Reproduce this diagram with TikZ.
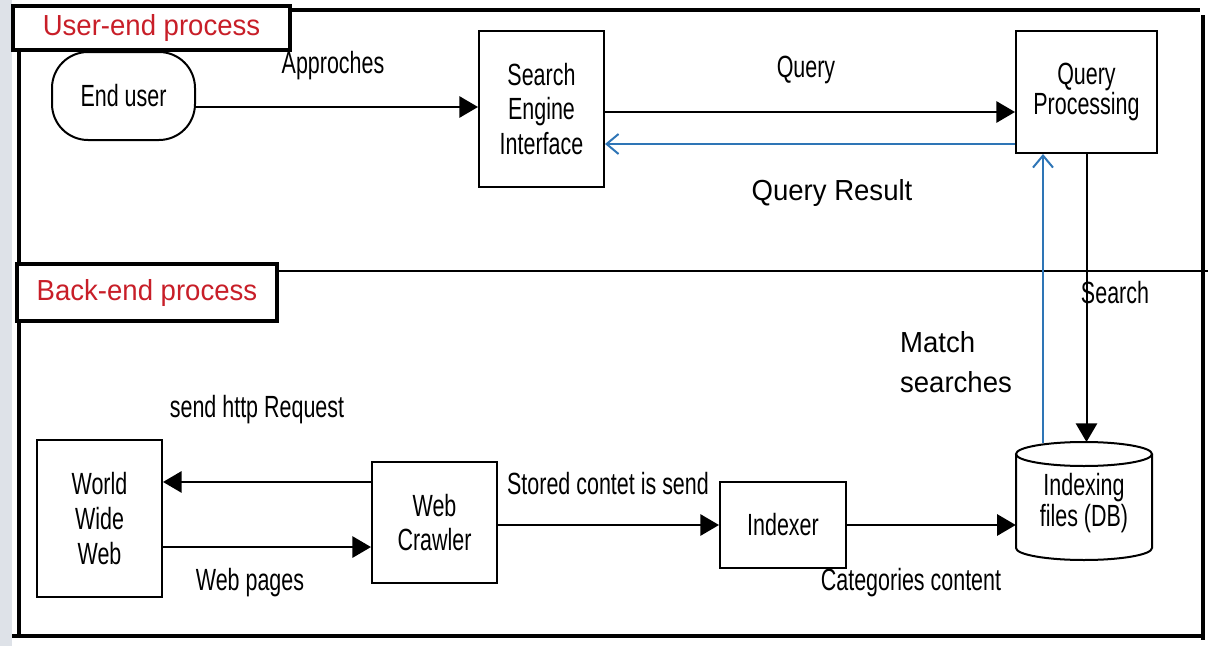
\documentclass[tikz,border=0pt]{standalone}
\usepackage{fontspec}
\setmainfont{Liberation Sans}[FakeStretch=0.70]
\newfontfamily\widefont{Liberation Sans}[FakeStretch=0.95]
\usetikzlibrary{arrows.meta,calc}
\definecolor{lnblue}{RGB}{46,117,182}
\definecolor{lbred}{RGB}{200,30,40}
\definecolor{stripc}{RGB}{222,226,232}
\begin{document}
\begin{tikzpicture}[x=0.75pt,y=-0.75pt,
  txt/.style={font=\fontsize{23pt}{26pt}\selectfont, inner sep=0pt, align=center},
  wtxt/.style={font=\widefont\fontsize{21.75pt}{30pt}\selectfont, inner sep=0pt, align=left},
  box/.style={draw, line width=1.5pt, inner sep=0pt, align=center, fill=white,
    font=\fontsize{23pt}{26pt}\selectfont},
  arr/.style={line width=1.5pt, -{Triangle[length=14pt,width=16pt]}},
  barr/.style={draw=lnblue, line width=1.5pt, -{Straight Barb[length=9pt,width=15pt,line width=1.5pt]}},
  frameline/.style={line width=3pt},
  secbox/.style={draw, line width=3pt, inner sep=0pt, fill=white, text=lbred,
    font=\widefont\fontsize{21.75pt}{26pt}\selectfont}
]
\useasboundingbox (0,0) rectangle (1208,646);
\fill[stripc] (0,0) rectangle (12,646);
% frame
\draw[frameline] (285,10) -- (1200,10);
\draw[frameline] (1203,15) -- (1203,640);
\draw[frameline] (12,636) -- (1205,636);
\draw[frameline] (19,30) -- (19,636);
\draw[line width=2pt] (19,271) -- (1208,271);
% section labels
\node[secbox, minimum width=207.75pt, minimum height=33pt] (ue) at (151.5,28) {User-end process};
\node[secbox, minimum width=195pt, minimum height=42.75pt] (be) at (147,292.5) {Back-end process};
% nodes
\node[box, minimum width=107.25pt, minimum height=66pt, rounded corners=27pt] (enduser) at (123.5,96) {End user};
\node[box, minimum width=93.75pt, minimum height=117pt] (sei) at (541.5,109) {Search\\Engine\\Interface};
\node[box, minimum width=105.75pt, minimum height=91.5pt, font=\fontsize{23pt}{23pt}\selectfont] (qp) at (1086.5,92) {Query\\Processing};
\node[box, minimum width=93.75pt, minimum height=117.75pt] (www) at (99.5,518.5) {World\\Wide\\Web};
\node[box, minimum width=93.75pt, minimum height=90.75pt] (wc) at (434.5,522.5) {Web\\Crawler};
\node[box, minimum width=94.5pt, minimum height=64.5pt] (indexer) at (783,525) {Indexer};
% database cylinder
\draw[line width=1.5pt, fill=white] (1016,454) -- (1016,548) arc[start angle=180, end angle=0, x radius=68, y radius=12] -- (1152,454);
\draw[line width=1.5pt] (1084,454) ellipse[x radius=68, y radius=12];
\node[inner sep=0pt, align=center, minimum width=102pt, minimum height=88.5pt,
  font=\fontsize{23pt}{23pt}\selectfont] (db) at (1084,503) {Indexing\\files (DB)};
% labels
\node[txt] (lApp) at (333,66) {Approches};
\node[txt] (lQuery) at (806,70) {Query};
\node[wtxt] (lQR) at (832,193) {Query Result};
\node[txt] (lSearch) at (1115,293) {Search};
\node[wtxt] (lMatch) at (956,362) {Match\\searches};
\node[txt] (lHttp) at (257,410) {send http Request};
\node[txt] (lWP) at (250,583) {Web pages};
\node[txt] (lStored) at (608,484) {Stored contet is send};
\node[txt] (lCat) at (911,583) {Categories content};
% connectors
\coordinate (a1) at ([yshift=-8.25pt]enduser.east);
\draw[arr] (a1) -- (a1 -| sei.west);
\coordinate (a2) at ([yshift=-2.25pt]sei.east);
\draw[arr] (a2) -- (a2 -| qp.west);
\coordinate (b2) at ([yshift=-39pt]qp.west);
\draw[barr] (b2) -- (b2 -| sei.east);
\coordinate (s1) at (1084,442);
\draw[arr] (qp.south) -- (qp.south |- s1);
\coordinate (b1) at (1043,443);
\draw[barr] (b1) -- (b1 |- qp.south);
\draw[arr] (wc.east |- indexer.west) -- (indexer.west);
\draw[arr] (indexer.east) -- (indexer.east -| db.west);
\coordinate (a3) at ([yshift=30.4pt]wc.west);
\draw[arr] (a3) -- (a3 -| www.east);
\coordinate (a4) at ([yshift=-18.4pt]wc.west);
\draw[arr] (a4 -| www.east) -- (a4);
\end{tikzpicture}
\end{document}
